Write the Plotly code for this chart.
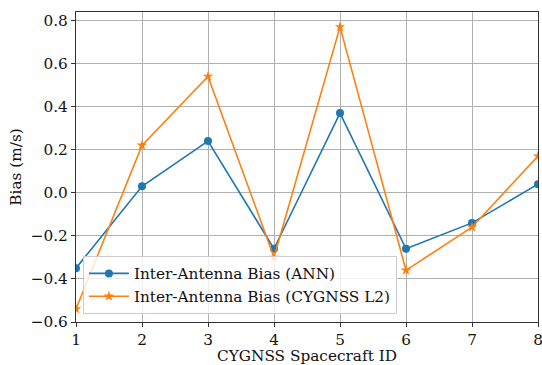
import plotly.graph_objects as go

spacecraft = [1, 2, 3, 4, 5, 6, 7, 8]
bias_ann = [-0.35, 0.03, 0.24, -0.26, 0.37, -0.26, -0.14, 0.04]
bias_l2 = [-0.54, 0.22, 0.54, -0.30, 0.77, -0.36, -0.16, 0.17]
y_ticks = [-0.6, -0.4, -0.2, 0.0, 0.2, 0.4, 0.6, 0.8]

font = "DejaVu Serif"
fs = 15.3

fig = go.Figure()
fig.add_trace(go.Scatter(x=spacecraft, y=bias_ann, mode="lines+markers",
                         name="Inter-Antenna Bias (ANN)",
                         line=dict(color="#1f77b4", width=1.6),
                         marker=dict(symbol="circle", size=8, color="#1f77b4")))
fig.add_trace(go.Scatter(x=spacecraft, y=bias_l2, mode="lines+markers",
                         name="Inter-Antenna Bias (CYGNSS L2)",
                         line=dict(color="#ff7f0e", width=1.6),
                         marker=dict(symbol="star", size=8, color="#ff7f0e")))

axis_common = dict(showgrid=True, gridcolor="#b0b0b0", gridwidth=1,
                   showline=True, linecolor="#333333", linewidth=1.2, mirror=True,
                   ticks="outside", ticklen=4, tickcolor="#333333",
                   zeroline=False, ticklabeloverflow="allow", automargin=False,
                   tickfont=dict(family=font, size=fs, color="#111111"))

fig.update_xaxes(range=[1, 8], tickvals=spacecraft, ticktext=[str(s) for s in spacecraft],
                 **axis_common)
fig.update_yaxes(range=[-0.6, 0.839], tickvals=y_ticks,
                 ticktext=[f"{v:.1f}".replace("-", "\u2212") for v in y_ticks],
                 title=dict(text="Bias (m/s)", font=dict(family=font, size=fs, color="#111111"), standoff=5),
                 **axis_common)

fig.add_annotation(text="CYGNSS Spacecraft ID", xref="paper", yref="paper",
                   x=0.5, y=-0.111, xanchor="center", yanchor="middle", showarrow=False,
                   font=dict(family=font, size=fs, color="#111111"))

fig.update_layout(width=542, height=365,
                  margin=dict(l=76, r=4, t=12, b=43),
                  paper_bgcolor="white", plot_bgcolor="white",
                  showlegend=True,
                  legend=dict(x=0.015, y=0.026, xanchor="left", yanchor="bottom",
                              bgcolor="rgba(255,255,255,0.8)", bordercolor="#cccccc", borderwidth=1,
                              font=dict(family=font, size=fs, color="#111111"),
                              tracegroupgap=0, itemwidth=40))

fig.write_html("out.html")
